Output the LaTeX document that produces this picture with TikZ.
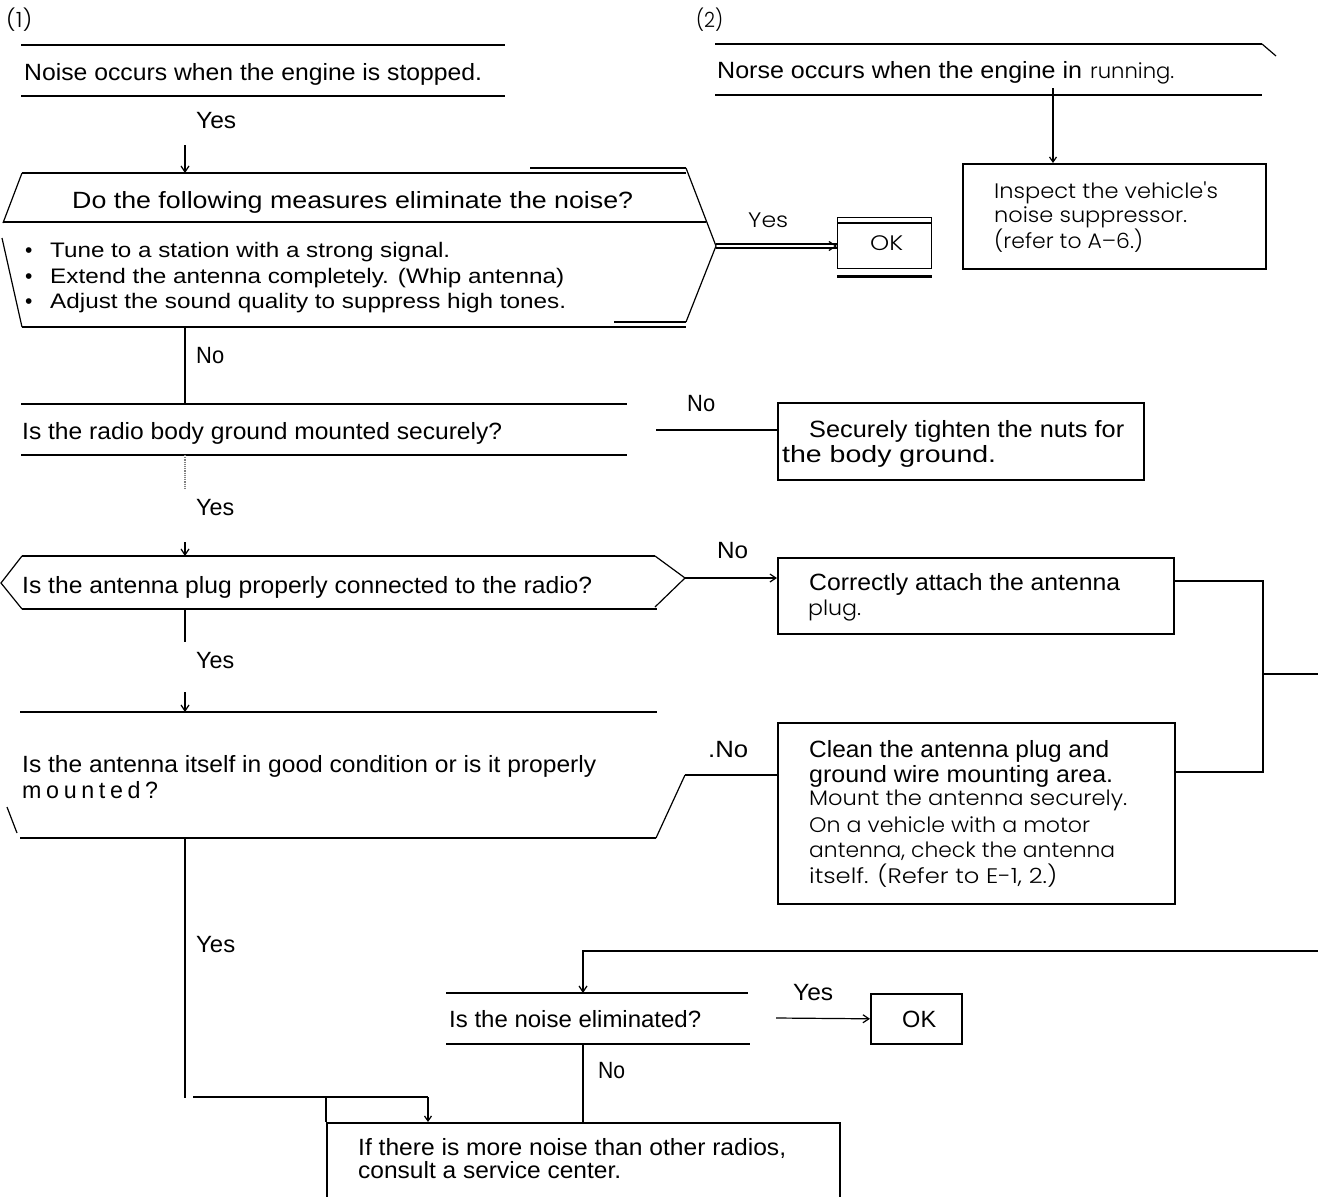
\documentclass[tikz,border=0pt]{standalone}
\usepackage{fontspec}
\usepackage{graphicx}
\setmainfont{Liberation Sans}
\IfFontExistsTF{Poppins Light}{\newfontfamily\lightf{Poppins Light}}{\newfontfamily\lightf{Poppins}}
\usetikzlibrary{arrows.meta}
% set a line of text to a given width, keeping its height
\newcommand{\fw}[2]{\resizebox{#1pt}{\height}{#2}}
\begin{document}
\begin{tikzpicture}[x=1pt,y=-1pt,
  lbl/.style={anchor=base west,inner sep=0pt,font=\fontsize{23.5}{24}\selectfont},
  lbs/.style={lbl,font=\fontsize{21}{22}\selectfont},
  lt/.style={anchor=base west,inner sep=0pt,font=\lightf\fontsize{21}{22}\selectfont},
  heavy/.style={line width=2.4pt},
  conn/.style={line width=1.2pt},
  arr/.style={conn,-{Straight Barb[length=6pt,width=8pt]}},
  box/.style={draw,line width=2pt,anchor=north west,inner sep=0pt}]
\useasboundingbox (0,0) rectangle (1318,1197);
\fill[white] (0,0) rectangle (1318,1197);

% ---------- section headings
\node[lt] (hd1) at (6,27) {\fw{26}{(1)}};
\node[lt] (hd2) at (696,27) {\fw{27}{(2)}};

% ---------- (1) engine stopped
\draw[heavy] (21,45) -- (505,45);
\draw[heavy] (21,96) -- (505,96);
\node[lbl] (stop) at (24,80) {\fw{458}{Noise occurs when the engine is stopped.}};
\node[lbl] (y1) at (196,128) {\fw{40}{Yes}};
\coordinate (a1) at (185,145);
\coordinate (h1top) at (185,173);
\draw[arr] (a1) -- (h1top);

% measures block
\draw[heavy] (22,173) -- (686,173);
\draw[conn] (530,168) -- (686,168);
\draw[conn] (22,173) -- (3,223);
\draw[conn] (2,238) -- (22,327);
\draw[conn] (686,168) -- (716,246) -- (686,322);
\draw[heavy] (3,222) -- (80,222);
\draw[conn] (80,222) -- (706,222);
\draw[heavy] (22,327) -- (686,327);
\draw[conn] (614,322) -- (686,322);
\coordinate (h1tip) at (716,246);
\coordinate (h1bot) at (185,327);
\node[lbl] (meas) at (72,208) {\fw{561}{Do the following measures eliminate the noise?}};
\node[lbs] (b1) at (25,257) {•};
\node[lbs] (b2) at (25,283) {•};
\node[lbs] (b3) at (25,308) {•};
\node[lbs] (m1) at (50,257) {\fw{400}{Tune to a station with a strong signal.}};
\node[lbs] (m2) at (50,283) {\fw{514}{Extend the antenna completely. (Whip antenna)}};
\node[lbs] (m3) at (50,308) {\fw{516}{Adjust the sound quality to suppress high tones.}};

% OK box
\node[box,line width=1.3pt,minimum width=94,minimum height=51] (ok1) at (837,217) {};
\draw[heavy] ([yshift=-6pt]ok1.north west) -- ([yshift=-6pt]ok1.north east);
\draw[heavy] ([yshift=-7pt]ok1.south west) -- ([yshift=-7pt]ok1.south east);
\node[lt] (ok1t) at (870,250) {\fw{33}{OK}};
\draw[conn] ([yshift=2pt]h1tip) -- ([yshift=2pt]h1tip -| ok1.west);
\draw[conn] ([yshift=-2pt]h1tip) -- ([yshift=-2pt]h1tip -| ok1.west);
\draw[conn,-{Straight Barb[length=7pt,width=9pt]}] ([xshift=-2pt]h1tip -| ok1.west) -- (h1tip -| ok1.west);
\node[lt] (y2) at (748,227) {\fw{40}{Yes}};

% ---------- (2) engine running
\draw[heavy] (715,44) -- (1262,44);
\draw[conn] (1262,44) -- (1276,56);
\draw[heavy] (715,95) -- (1262,95);
\node[lbl] (run) at (717,78) {\fw{365}{Norse occurs when the engine in}};
\node[lt] (run2) at (1090,78) {\fw{84}{running.}};
\node[box,line width=1.6pt,minimum width=303,minimum height=105] (insp) at (962,163) {};
\coordinate (a2) at (1053,88);
\draw[conn,-{Straight Barb[length=5pt,width=7pt]}] (a2) -- (a2 |- insp.north);
\node[lt] (i1) at (994,198) {\fw{224}{Inspect the vehicle's}};
\node[lt] (i2) at (994,222) {\fw{193}{noise suppressor.}};
\node[lt] (i3) at (994,248) {\fw{149}{(refer to A–6.)}};

% ---------- body ground
\node[lbl] (n1) at (196,363) {\fw{28}{No}};
\coordinate (rbtop) at (185,404);
\draw[conn] (h1bot) -- (rbtop);
\draw[heavy] (21,404) -- (627,404);
\draw[heavy] (21,455) -- (627,455);
\node[lbl] (rb) at (22,439) {\fw{480}{Is the radio body ground mounted securely?}};
\node[lbl] (n2) at (687,411) {\fw{28}{No}};
\node[box,minimum width=366,minimum height=77] (st) at (777,402) {};
\coordinate (rbR) at (656,430);
\draw[heavy] (rbR) -- (rbR -| st.west);
\node[lbl] (st1) at (809,437) {\fw{315}{Securely tighten the nuts for}};
\node[lbl] (st2) at (782,462) {\fw{214}{the body ground.}};
\coordinate (rbbot) at (185,455);
\coordinate (d1) at (185,490);
\draw[conn,densely dotted,gray] (rbbot) -- (d1);
\node[lbl] (y3) at (196,515) {\fw{38}{Yes}};
\coordinate (a3) at (185,542);
\coordinate (h2top) at (185,556);
\draw[arr] (a3) -- (h2top);

% ---------- antenna plug
\draw[heavy] (22,556) -- (655,556);
\draw[heavy] (22,609) -- (657,609);
\draw[conn] (22,556) -- (1,583) -- (22,609);
\draw[conn] (655,556) -- (685,578) -- (655,607);
\coordinate (h2tip) at (685,578);
\coordinate (h2bot) at (185,609);
\node[lbl] (ap) at (22,593) {\fw{570}{Is the antenna plug properly connected to the radio?}};
\node[lbl] (n3) at (717,558) {\fw{31}{No}};
\node[box,minimum width=396,minimum height=76] (ca) at (777,557) {};
\draw[arr] (h2tip) -- (h2tip -| ca.west);
\node[lbl] (ca1) at (809,590) {\fw{311}{Correctly attach the antenna}};
\node[lt] (ca2) at (808,615) {\fw{53}{plug.}};
\coordinate (a4) at (185,642);
\draw[conn] (h2bot) -- (a4);
\node[lbl] (y4) at (196,668) {\fw{38}{Yes}};
\coordinate (a5) at (185,692);
\coordinate (h3top) at (185,712);
\draw[arr] (a5) -- (h3top);

% ---------- antenna condition
\draw[heavy] (20,712) -- (657,712);
\draw[heavy] (20,838) -- (656,838);
\draw[conn] (7,807) -- (17,833);
\draw[conn] (656,838) -- (685,775);
\coordinate (h3tip) at (685,775);
\coordinate (h3bot) at (185,838);
\node[lbl] (ac1) at (22,772) {\fw{574}{Is the antenna itself in good condition or is it properly}};
\node[lbl] (ac2) at (22,798) {\fw{136}{\addfontfeature{LetterSpace=20}mounted?}};
\node[lbl] (n4) at (708,757) {\fw{40}{.No}};
\node[box,minimum width=397,minimum height=181] (cl) at (777,722) {};
\draw[heavy] (h3tip) -- (h3tip -| cl.west);
\node[lbl] (cl1) at (809,757) {\fw{300}{Clean the antenna plug and}};
\node[lbl] (cl2) at (809,782) {\fw{304}{ground wire mounting area.}};
\node[lt] (cl3) at (809,805) {\fw{318}{Mount the antenna securely.}};
\node[lt] (cl4) at (809,832) {\fw{281}{On a vehicle with a motor}};
\node[lt] (cl5) at (809,857) {\fw{306}{antenna, check the antenna}};
\node[lt] (cl6) at (809,883) {\fw{248}{itself. (Refer to E-1, 2.)}};

% return path from both repair boxes
\coordinate (caR) at (1173,581);
\coordinate (clR) at (1174,772);
\coordinate (jn) at (1263,674);
\coordinate (jnR) at (1318,674);
\draw[conn] (caR) -- (1263,581) -- (1263,772) -- (clR);
\draw[conn] (jn) -- (jnR);

% ---------- final check
\node[lbl] (y5) at (196,952) {\fw{39}{Yes}};
\coordinate (rtR) at (1318,951);
\coordinate (rtL) at (583,951);
\coordinate (netop) at (583,993);
\draw[arr] (rtR) -- (rtL) -- (netop);
\draw[heavy] (446,993) -- (748,993);
\draw[heavy] (446,1044) -- (750,1044);
\node[lbl] (ne) at (449,1027) {\fw{252}{Is the noise eliminated?}};
\node[box,line width=1.6pt,minimum width=91,minimum height=50] (ok2) at (870,993) {};
\node[lbl] (ok2t) at (902,1027) {\fw{34}{OK}};
\coordinate (neR) at (776,1018);
\draw[arr] (neR) -- (ok2.west);
\node[lbl] (y6) at (793,1000) {\fw{40}{Yes}};
\node[lbl] (n5) at (598,1078) {\fw{27}{No}};

% ---------- service centre
\node[box,minimum width=513,minimum height=100] (sc) at (326,1122) {};
\coordinate (nebot) at (583,1044);
\draw[conn] (nebot) -- (nebot |- sc.north);
\coordinate (yb) at (185,1098);
\draw[conn] (h3bot) -- (yb);
\coordinate (jl) at (193,1097);
\coordinate (jr) at (428,1097);
\coordinate (jm) at (326,1097);
\draw[heavy] (jl) -- (jr);
\draw[heavy] (jm) -- (jm |- sc.north);
\draw[conn,-{Straight Barb[length=5pt,width=7pt]}] (jr) -- (jr |- sc.north);
\node[lbl] (sc1) at (358,1155) {\fw{428}{If there is more noise than other radios,}};
\node[lbl] (sc2) at (358,1178) {\fw{263}{consult a service center.}};
\end{tikzpicture}
\end{document}
